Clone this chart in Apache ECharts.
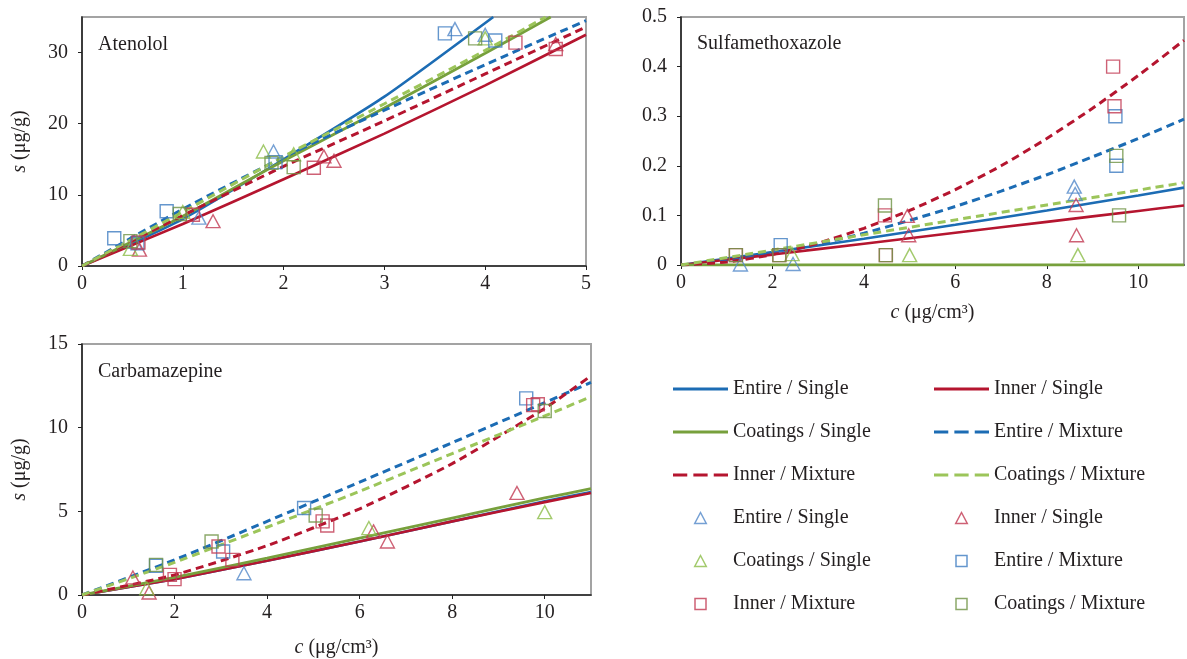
<!DOCTYPE html>
<html>
<head>
<meta charset="utf-8">
<script src="https://cdn.jsdelivr.net/npm/echarts@6/dist/echarts.min.js"></script>
<style>
html,body{margin:0;padding:0;background:#fff;}
#chart{width:1187px;height:659px;}
</style>
</head>
<body>
<div id="chart"></div>
<script>
// ---------- Data ----------
const seriesKeys = ['ES','IS','CS','EM','IM','CM'];
const seriesLabels = {ES:'Entire / Single', IS:'Inner / Single', CS:'Coatings / Single',
  EM:'Entire / Mixture', IM:'Inner / Mixture', CM:'Coatings / Mixture'};

// Atenolol fitted curves [c, s]
const ateES = [[0,0],[1,6.6],[2,15.0],[3,23.8],[4.08,35]];
const ateIS = [[0,0],[1,5.9],[2,12.2],[3,18.6],[4,25.4],[5,32.5]];
const ateCS = [[0,0],[1,7.0],[2,14.8],[3,22.2],[4,29.9],[4.65,35]];
const ateEM = [[0,0],[1,8.0],[2,15.3],[3,21.9],[4,28.3],[5,34.5]];
const ateIM = [[0,0],[1,7.1],[2,14.0],[3,20.4],[4,27.0],[5,33.6]];
const ateCM = [[0,0],[1,7.6],[2,15.4],[3,22.8],[4,30.3],[4.6,35]];
// Atenolol measured points
const ateESpts = [[0.52,3.4],[1.16,6.8],[1.9,16.1],[3.7,33.3],[4.0,32.5]];
const ateISpts = [[0.57,2.3],[1.3,6.3],[2.4,15.4],[2.5,14.8],[4.7,31.2]];
const ateCSpts = [[0.48,2.4],[1.0,7.6],[1.8,16.1],[2.1,15.7],[4.0,32.0]];
const ateEMpts = [[0.32,3.9],[0.55,3.2],[0.84,7.7],[1.92,14.6],[3.6,32.7],[4.1,31.7]];
const ateIMpts = [[0.56,3.3],[1.1,7.2],[2.3,13.8],[4.3,31.4],[4.7,30.5]];
const ateCMpts = [[0.48,3.5],[0.97,7.3],[1.88,14.5],[2.1,13.9],[3.9,32.0]];

// Sulfamethoxazole fitted curves
const sulES = [[0,0],[2,0.026],[4,0.053],[6,0.081],[8,0.110],[10,0.140],[11,0.156]];
const sulIS = [[0,0],[2,0.021],[4,0.043],[6,0.065],[8,0.087],[10,0.109],[11,0.120]];
const sulCS = [[0,0],[11,0]];
const sulEM = [[0,0],[1,0.008],[2,0.023],[3,0.042],[4,0.064],[5,0.090],[6,0.118],[7,0.149],[8,0.182],[9,0.218],[10,0.255],[11,0.294]];
const sulIM = [[0,0],[1,0.006],[2,0.021],[3,0.044],[4,0.074],[5,0.110],[6,0.152],[7,0.200],[8,0.255],[9,0.316],[10,0.382],[11,0.453]];
const sulCM = [[0,0],[2,0.030],[4,0.061],[6,0.091],[8,0.121],[10,0.151],[11,0.166]];
// Sulfamethoxazole measured points
const sulESpts = [[1.3,0.001],[2.45,0.002],[8.6,0.158],[8.62,0.143]];
const sulISpts = [[4.95,0.099],[4.98,0.06],[8.64,0.121],[8.65,0.06]];
const sulCSpts = [[2.43,0.022],[5.0,0.02],[8.68,0.02]];
const sulEMpts = [[2.18,0.04],[9.5,0.30],[9.52,0.20]];
const sulIMpts = [[1.2,0.02],[2.15,0.02],[4.46,0.10],[4.48,0.02],[9.45,0.40],[9.48,0.32]];
const sulCMpts = [[1.2,0.02],[2.15,0.02],[4.46,0.12],[4.48,0.02],[9.52,0.22],[9.58,0.10]];

// Carbamazepine fitted curves
const carES = [[0,0],[2,0.95],[4,2.05],[6,3.2],[8,4.4],[10,5.6],[11,6.15]];
const carIS = [[0,0],[2,0.95],[4,2.05],[6,3.2],[8,4.4],[10,5.55],[11,6.1]];
const carCS = [[0,0],[2,1.05],[4,2.2],[6,3.4],[8,4.6],[10,5.8],[11,6.35]];
const carEM = [[0,0],[2,2.1],[4,4.4],[6,6.75],[8,9.1],[10,11.5],[11,12.7]];
const carIM = [[0,0],[2,1.2],[4,2.95],[6,5.15],[8,7.85],[10,11.15],[11,13.1]];
const carCM = [[0,0],[2,1.95],[4,4.05],[6,6.2],[8,8.45],[10,10.7],[11,11.85]];
// Carbamazepine measured points
const carESpts = [[3.5,1.3]];
const carISpts = [[1.1,1.05],[1.45,0.15],[6.3,3.8],[6.6,3.2],[9.4,6.1]];
const carCSpts = [[1.4,0.4],[6.2,4.0],[10.0,4.95]];
const carEMpts = [[1.6,1.75],[3.05,2.6],[4.8,5.2],[9.6,11.75]];
const carIMpts = [[1.9,1.2],[2.0,0.95],[2.95,2.9],[3.25,2.1],[5.2,4.4],[5.3,4.15],[9.75,11.35],[9.85,11.4]];
const carCMpts = [[1.6,1.8],[2.8,3.2],[5.05,4.75],[10.0,11.0]];

// axis ticks
const ateXTicks = {min:0, max:5, interval:1};
const ateYTicks = {min:0, max:35, interval:10};
const sulXTicks = {min:0, max:11, interval:2};
const sulYTicks = {min:0, max:0.5, interval:0.1};
const carXTicks = {min:0, max:11, interval:2};
const carYTicks = {min:0, max:15, interval:5};

const panelNames = ['Atenolol','Sulfamethoxazole','Carbamazepine'];
const yName = '{i|s} (μg/g)';
const xName = '{i|c} (μg/cm³)';

// ---------- Styles ----------
const FONT = '"Liberation Serif","DejaVu Serif",serif';
const TXT = '#231f20';
const FS = 20;
const lineStyles = {
  ES:{color:'#1c6cb4', width:2.6, type:'solid'},
  IS:{color:'#b5152f', width:2.6, type:'solid'},
  CS:{color:'#77a03c', width:2.8, type:'solid'},
  EM:{color:'#1c6cb4', width:3, type:[8,5]},
  IM:{color:'#b5152f', width:3, type:[8,5]},
  CM:{color:'#9cc55a', width:3, type:[8,5]}
};
const markStyles = {
  ES:{symbol:'triangle', color:'#5288c9'},
  IS:{symbol:'triangle', color:'#c23a52'},
  CS:{symbol:'triangle', color:'#8cbd48'},
  EM:{symbol:'rect', color:'#3d7cc0'},
  IM:{symbol:'rect', color:'#c23a52'},
  CM:{symbol:'rect', color:'#6e9244'}
};

const panels = [
  {curves:{ES:ateES,IS:ateIS,CS:ateCS,EM:ateEM,IM:ateIM,CM:ateCM},
   pts:{ES:ateESpts,IS:ateISpts,CS:ateCSpts,EM:ateEMpts,IM:ateIMpts,CM:ateCMpts}},
  {curves:{ES:sulES,IS:sulIS,CS:sulCS,EM:sulEM,IM:sulIM,CM:sulCM},
   pts:{ES:sulESpts,IS:sulISpts,CS:sulCSpts,EM:sulEMpts,IM:sulIMpts,CM:sulCMpts}},
  {curves:{ES:carES,IS:carIS,CS:carCS,EM:carEM,IM:carIM,CM:carCM},
   pts:{ES:carESpts,IS:carISpts,CS:carCSpts,EM:carEMpts,IM:carIMpts,CM:carCMpts}}
];

const grids = [
  {left:82, top:17, width:504, height:249},
  {left:681, top:17, width:503, height:248},
  {left:82, top:344, width:509, height:251}
].map(g => Object.assign(g, {show:true, borderColor:'#a3a3a3', borderWidth:2, backgroundColor:'transparent'}));

const labelStyle = {fontFamily:FONT, fontSize:FS, color:TXT};
const nameStyle = {fontFamily:FONT, fontSize:FS, color:TXT,
  rich:{i:{fontFamily:FONT, fontSize:FS, fontStyle:'italic', color:TXT}}};

function mkAxis(gi, ticks, isY, opts) {
  return Object.assign({
    type:'value', gridIndex:gi, min:ticks.min, max:ticks.max, interval:ticks.interval,
    axisLine:{show:true, onZero:false, lineStyle:{color:'#222', width:1.6}},
    axisTick:{show:true, length:4, lineStyle:{color:'#222', width:1}},
    axisLabel:Object.assign({margin:isY ? 14 : 8, showMaxLabel:opts.showMax}, labelStyle),
    splitLine:{show:false}
  }, opts.extra || {});
}

const xAxes = [
  mkAxis(0, ateXTicks, false, {showMax:true}),
  mkAxis(1, sulXTicks, false, {showMax:false, extra:{name:xName, nameLocation:'middle', nameGap:38, nameTextStyle:nameStyle}}),
  mkAxis(2, carXTicks, false, {showMax:false, extra:{name:xName, nameLocation:'middle', nameGap:43, nameTextStyle:nameStyle}})
];
const yAxes = [
  mkAxis(0, ateYTicks, true, {showMax:false, extra:{name:yName, nameLocation:'middle', nameGap:52, nameRotate:90, nameTextStyle:nameStyle}}),
  mkAxis(1, sulYTicks, true, {showMax:true}),
  mkAxis(2, carYTicks, true, {showMax:true, extra:{name:yName, nameLocation:'middle', nameGap:52, nameRotate:90, nameTextStyle:nameStyle}})
];

const series = [];
panels.forEach((p, gi) => {
  seriesKeys.forEach(k => {
    series.push({
      name:'L:' + seriesLabels[k], type:'line', xAxisIndex:gi, yAxisIndex:gi,
      data:p.curves[k], symbol:'none', smooth:0.2, clip:true,
      lineStyle:lineStyles[k], itemStyle:{color:lineStyles[k].color},
      silent:true, animation:false, z:2
    });
  });
});
panels.forEach((p, gi) => {
  seriesKeys.forEach(k => {
    const m = markStyles[k];
    series.push({
      name:'M:' + seriesLabels[k], type:'scatter', xAxisIndex:gi, yAxisIndex:gi,
      data:p.pts[k], symbol:m.symbol, symbolSize:m.symbol === 'rect' ? 13 : [14,13],
      itemStyle:{color:'rgba(255,255,255,0)', borderColor:m.color, borderWidth:1.4},
      silent:true, animation:false, z:3
    });
  });
});

// legend icons
const ICON_SOLID = 'path://M0,0H54V3H0Z';
const ICON_DASH = 'path://M0,0H14V3H0Z M20,0H34V3H20Z M40,0H54V3H40Z';
const ICON_TRI = 'path://M5,0L10,9.5L0,9.5Z';
const ICON_SQ = 'path://M0,0H10V10H0Z';
function lineItem(k) {
  return {name:'L:' + seriesLabels[k], icon: lineStyles[k].type === 'solid' ? ICON_SOLID : ICON_DASH,
    itemStyle:{color:lineStyles[k].color, borderWidth:0}};
}
function markItem(k) {
  return {name:'M:' + seriesLabels[k], icon: markStyles[k].symbol === 'triangle' ? ICON_TRI : ICON_SQ,
    itemStyle:{color:'rgba(255,255,255,0)', borderColor:markStyles[k].color, borderWidth:1.5}};
}
const legendCol1 = [lineItem('ES'), lineItem('CS'), lineItem('IM'), markItem('ES'), markItem('CS'), markItem('IM')];
const legendCol2 = [lineItem('IS'), lineItem('EM'), lineItem('CM'), markItem('IS'), markItem('EM'), markItem('CM')];

function mkLegend(left, data) {
  return {
    orient:'vertical', left:left, top:379, itemWidth:55, itemHeight:11, itemGap:23,
    selectedMode:false, data:data, padding:0, symbolKeepAspect:true,
    formatter:n => n.slice(2),
    textStyle:{fontFamily:FONT, fontSize:FS, color:TXT, lineHeight:20}
  };
}

const titles = panelNames.map((t, i) => ({
  text:t, left:[98,697,98][i], top:[35,34,362][i], padding:0,
  textStyle:{fontFamily:FONT, fontSize:FS, fontWeight:'normal', color:TXT}
}));

const chart = echarts.init(document.getElementById('chart'), null, {renderer:'canvas'});
chart.setOption({
  animation:false,
  backgroundColor:'#ffffff',
  title:titles,
  grid:grids,
  xAxis:xAxes,
  yAxis:yAxes,
  legend:[mkLegend(673, legendCol1), mkLegend(934, legendCol2)],
  series:series
});
</script>
</body>
</html>
